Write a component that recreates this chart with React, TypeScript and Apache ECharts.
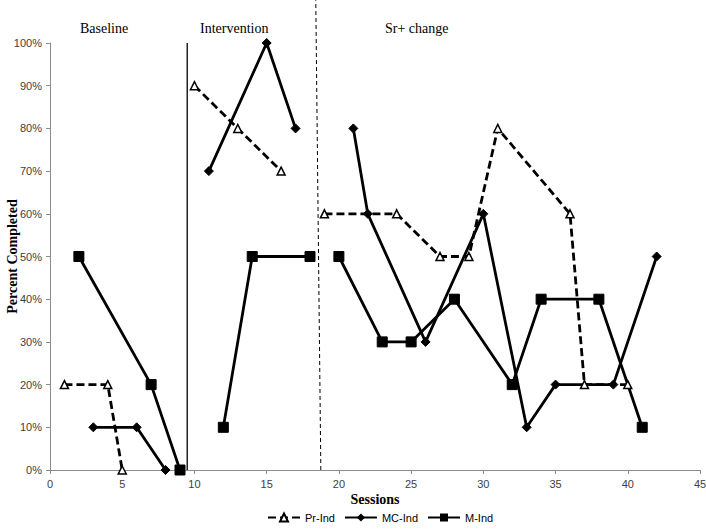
import React, { useEffect, useRef } from "react";
import * as echarts from "echarts";

// Session / percent pairs per phase
const prBaseline: [number, number][] = [[1, 20], [4, 20], [5, 0]];
const prIntervention: [number, number][] = [[10, 90], [13, 80], [16, 70]];
const prSrChange: [number, number][] = [[19, 60], [24, 60], [27, 50], [29, 50], [31, 80], [36, 60], [37, 20], [40, 20]];

const mcBaseline: [number, number][] = [[3, 10], [6, 10], [8, 0]];
const mcIntervention: [number, number][] = [[11, 70], [15, 100], [17, 80]];
const mcSrChange: [number, number][] = [[21, 80], [22, 60], [26, 30], [30, 60], [33, 10], [35, 20], [39, 20], [42, 50]];

const mBaseline: [number, number][] = [[2, 50], [7, 20], [9, 0]];
const mIntervention: [number, number][] = [[12, 10], [14, 50], [18, 50]];
const mSrChange: [number, number][] = [[20, 50], [23, 30], [25, 30], [28, 40], [32, 20], [34, 40], [38, 40], [41, 10]];

const phaseNames = ["Baseline", "Intervention", "Sr+ change"];
const phaseLine1: [number, number][] = [[9.5, 0], [9.5, 100]];
const phaseLine2: [number, number][] = [[18.75, 0], [18.4, 110]];

const seriesNames = ["Pr-Ind", "MC-Ind", "M-Ind"];

function joinPhases(...phases: [number, number][][]) {
  const out: any[] = [];
  phases.forEach((p, i) => {
    if (i > 0) out.push(["-", "-"]);
    p.forEach((d) => out.push(d));
  });
  return out;
}

export default function App() {
  const ref = useRef<HTMLDivElement>(null);
  useEffect(() => {
    if (!ref.current) return;
    const chart = echarts.init(ref.current, null, { renderer: "svg" });
    const tickLabel = { color: "#404040", fontFamily: "Liberation Sans", fontSize: 11 };
    chart.setOption({
      animation: false,
      backgroundColor: "#fff",
      grid: { left: 50, right: 6, top: 43, bottom: 61, containLabel: false, outerBoundsMode: "none" },
      xAxis: {
        type: "value",
        min: 0,
        max: 45,
        interval: 5,
        name: "Sessions",
        nameLocation: "middle",
        nameGap: 22,
        nameMoveOverlap: false,
        nameTextStyle: { fontFamily: "Liberation Serif", fontWeight: "bold", fontSize: 14, color: "#000" },
        axisLine: { lineStyle: { color: "#8c8c8c", width: 1 } },
        axisTick: { show: true, length: 4, lineStyle: { color: "#8c8c8c" } },
        axisLabel: { ...tickLabel, margin: 8 },
        splitLine: { show: false },
      },
      yAxis: {
        type: "value",
        min: 0,
        max: 100,
        interval: 10,
        name: "Percent Completed",
        nameLocation: "middle",
        nameGap: 31,
        nameMoveOverlap: false,
        nameTextStyle: { fontFamily: "Liberation Serif", fontWeight: "bold", fontSize: 14, color: "#000" },
        axisLine: { show: true, lineStyle: { color: "#8c8c8c", width: 1 } },
        axisTick: { show: true, length: 4, lineStyle: { color: "#8c8c8c" } },
        axisLabel: { ...tickLabel, formatter: "{value}%", margin: 8 },
        splitLine: { show: false },
      },
      legend: {
        bottom: 3,
        left: 262,
        itemGap: 9,
        itemWidth: 32,
        itemHeight: 10,
        data: seriesNames,
        textStyle: { fontFamily: "Liberation Sans", fontSize: 11, color: "#000" },
      },
      graphic: [
        { type: "text", left: 80, top: 21, style: { text: phaseNames[0], font: "14px 'Liberation Serif'", fill: "#000" } },
        { type: "text", left: 200, top: 21, style: { text: phaseNames[1], font: "14px 'Liberation Serif'", fill: "#000" } },
        { type: "text", left: 385, top: 21, style: { text: phaseNames[2], font: "14px 'Liberation Serif'", fill: "#000" } },
      ],
      series: [
        {
          name: seriesNames[0],
          type: "line",
          data: joinPhases(prBaseline, prIntervention, prSrChange),
          connectNulls: false,
          lineStyle: { color: "#000", width: 2.8, type: [8, 4] },
          symbol: "triangle",
          symbolSize: 8,
          itemStyle: { color: "#fff", borderColor: "#000", borderWidth: 1.5 },
          z: 3,
        },
        {
          name: seriesNames[1],
          type: "line",
          data: joinPhases(mcBaseline, mcIntervention, mcSrChange),
          connectNulls: false,
          lineStyle: { color: "#000", width: 2.8 },
          symbol: "diamond",
          symbolSize: 9,
          itemStyle: { color: "#000", borderColor: "#000" },
          z: 3,
        },
        {
          name: seriesNames[2],
          type: "line",
          data: joinPhases(mBaseline, mIntervention, mSrChange),
          connectNulls: false,
          lineStyle: { color: "#000", width: 2.8 },
          symbol: "rect",
          symbolSize: 10,
          itemStyle: { color: "#000", borderColor: "#000" },
          z: 3,
        },
        {
          name: "phase1",
          type: "line",
          data: phaseLine1,
          symbol: "none",
          lineStyle: { color: "#000", width: 1.3 },
          silent: true,
          z: 2,
        },
        {
          name: "phase2",
          type: "line",
          data: phaseLine2,
          symbol: "none",
          clip: false,
          lineStyle: { color: "#000", width: 1, type: [4, 3] },
          silent: true,
          z: 2,
        },
      ],
    });
    return () => chart.dispose();
  }, []);
  return <div ref={ref} style={{ width: 706, height: 531, position: "absolute", left: 0, top: 0 }} />;
}
